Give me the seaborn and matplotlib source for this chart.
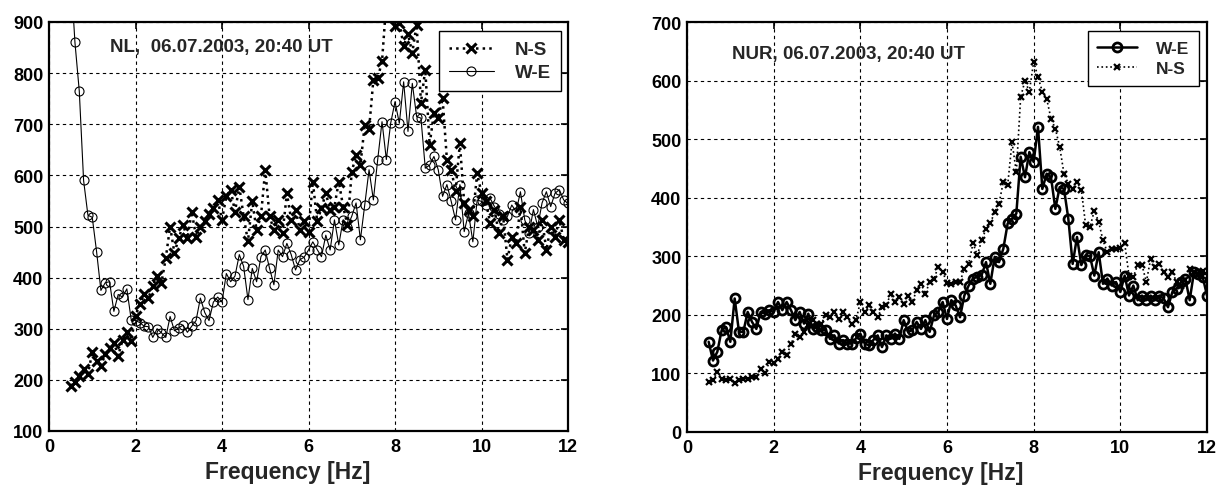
import numpy as np
import matplotlib
matplotlib.use("Agg")
import matplotlib.pyplot as plt
import seaborn as sns

# ---------------- data ----------------
f_start = 0.5
f_step = 0.1

nl_we = [1000, 860, 765, 590, 522, 518, 451, 375, 390, 392,
         334, 367, 362, 378, 318, 316, 312, 305, 304, 283,
         300, 292, 283, 324, 296, 302, 307, 293, 305, 316,
         360, 332, 316, 352, 362, 352, 408, 392, 403, 445,
         422, 357, 418, 392, 441, 454, 418, 386, 454, 441,
         467, 445, 415, 435, 440,
         454, 470, 455, 441, 483, 454, 513, 464, 513, 500,
         520, 546, 474, 542, 611, 552, 631, 705, 631, 702,
         744, 702, 783, 686, 780, 715, 712, 614, 620, 637,
         611, 559, 582, 549, 513, 582, 490, 526, 470, 552,
         549, 542, 555, 539, 525, 513, 520, 542, 529, 568,
         513, 487, 533, 500, 546, 568, 539, 565, 572, 552,
         545]

nl_ns = [188, 196, 208, 221, 211, 254, 237, 227, 250, 262,
         273, 247, 278, 293, 276, 325, 348, 367, 361, 383,
         403, 390, 438, 500, 448, 477, 503, 477, 529, 480,
         500, 510, 525, 536, 552, 513, 559, 572, 529, 578,
         520, 471, 549, 493, 520, 611, 520, 493, 513, 487,
         565, 513, 533, 493, 510,
         490, 588, 510, 536, 565, 533, 539, 588, 539, 503,
         607, 640, 620, 699, 690, 787, 790, 823, 940, 960,
         892, 899, 853, 876, 840, 895, 742, 807, 660, 722,
         712, 751, 631, 611, 569, 663, 546, 533, 520, 604,
         565, 549, 507, 533, 487, 520, 435, 480, 467, 539,
         448, 500, 493, 474, 513, 454, 500, 480, 513, 474,
         470]

nur_we = [154, 122, 137, 174, 179, 154, 228, 171, 171, 205,
          188, 176, 205, 202, 208, 205, 222, 208, 222, 208,
          191, 205, 185, 202, 176, 179, 174, 174, 159, 165,
          151, 157, 151, 151, 160, 168, 151, 148, 157, 165,
          145, 165, 159, 168, 159, 191, 171, 174, 188, 176,
          191, 171, 199, 205, 222,
          193, 225, 216, 196, 233, 250, 262, 265, 268, 290,
          253, 299, 290, 313, 356, 364, 373, 470, 435, 478,
          461, 521, 415, 441, 435, 381, 418, 415, 364, 287,
          333, 285, 302, 300, 267, 307, 253, 262, 250, 256,
          239, 267, 233, 250, 225, 233, 225, 233, 225, 233,
          228, 213, 239, 245, 256, 262, 225, 273, 270, 265,
          233]

nur_ns = [85, 88, 102, 91, 88, 91, 83, 88, 91, 91,
          94, 94, 108, 100, 120, 117, 125, 137, 131, 150,
          168, 162, 170, 182, 191, 185, 185, 199, 196, 205,
          193, 205, 196, 185, 191, 222, 205, 216, 205, 196,
          213, 216, 236, 222, 230, 219, 233, 222, 242, 253,
          236, 256, 262, 282, 273,
          255, 253, 256, 256, 279, 287, 322, 302, 327, 347,
          356, 376, 390, 427, 421, 495, 444, 572, 600, 581,
          632, 606, 581, 569, 535, 518, 487, 441, 424, 415,
          427, 413, 353, 350, 378, 359, 327, 307, 313, 313,
          315, 322, 267, 265, 285, 285, 256, 296, 282, 287,
          273, 265, 273, 256, 250, 259, 279, 273, 270, 275,
          260]

x_ticks = [0, 2, 4, 6, 8, 10, 12]
nl_yticks = [100, 200, 300, 400, 500, 600, 700, 800, 900]
nur_yticks = [0, 100, 200, 300, 400, 500, 600, 700]
x_label = "Frequency [Hz]"
nl_title = "NL,  06.07.2003, 20:40 UT"
nur_title = "NUR, 06.07.2003, 20:40 UT"


def freqs(vals):
    return f_start + f_step * np.arange(len(vals))


# ---------------- style ----------------
sns.set_style("white")
plt.rcParams["font.family"] = ["Liberation Sans", "DejaVu Sans"]
plt.rcParams["font.weight"] = "bold"

fig = plt.figure(figsize=(12.2, 4.89), dpi=100)
fig.patch.set_facecolor("white")
ax1 = fig.add_axes([49 / 1220, 57 / 489, 519 / 1220, 409 / 489])
ax2 = fig.add_axes([687 / 1220, 56 / 489, 520 / 1220, 410 / 489])

# ---------------- left panel (NL) ----------------
sns.lineplot(x=freqs(nl_ns), y=nl_ns, ax=ax1, color="k", linestyle=":",
             linewidth=1.8, marker="x", markersize=6.5,
             markeredgewidth=2.2, markeredgecolor="k", label="N-S")
sns.lineplot(x=freqs(nl_we), y=nl_we, ax=ax1, color="k", linestyle="-",
             linewidth=0.8, marker="o", markersize=6.5,
             markeredgewidth=0.8, markeredgecolor="k",
             markerfacecolor="none", label="W-E")

# ---------------- right panel (NUR) ----------------
sns.lineplot(x=freqs(nur_we), y=nur_we, ax=ax2, color="k", linestyle="-",
             linewidth=1.8, marker="o", markersize=6.5,
             markeredgewidth=2.0, markeredgecolor="k",
             markerfacecolor="none", label="W-E")
sns.lineplot(x=freqs(nur_ns), y=nur_ns, ax=ax2, color="k", linestyle=":",
             linewidth=1.2, marker="x", markersize=4.5,
             markeredgewidth=1.6, markeredgecolor="k", label="N-S")

panels = [
    (ax1, nl_yticks, nl_title, (0.1175, 0.941), 0.46, (0.9865, 0.978), 13.5, 2.4),
    (ax2, nur_yticks, nur_title, (0.0865, 0.922), 0.487, (0.9846, 0.978), 12.5, 2.3),
]

for ax, yt, title, tpos, lab_x, leg_anchor, leg_fs, hl in panels:
    ax.set_xlim(0, 12)
    ax.set_ylim(yt[0], yt[-1])
    ax.set_xticks(x_ticks)
    ax.set_yticks(yt)
    ax.set_xticklabels([str(v) for v in x_ticks], fontsize=13, fontweight="bold")
    ax.set_yticklabels([str(v) for v in yt], fontsize=13, fontweight="bold")
    ax.grid(True, color="k", linestyle=(0, (3, 3)), linewidth=0.8)
    ax.set_axisbelow(True)
    ax.tick_params(direction="in", top=True, right=True, length=5,
                   width=1.2, pad=4, colors="k")
    ax.tick_params(axis="x", pad=5)
    for sp in ax.spines.values():
        sp.set_visible(True)
        sp.set_color("k")
        sp.set_linewidth(1.6)
    ax.set_xlabel("")
    ax.set_ylabel("")
    ax.text(lab_x, -0.1, x_label, transform=ax.transAxes, ha="center",
            va="center", fontsize=16.5, fontweight="bold")
    ax.text(tpos[0], tpos[1], title, transform=ax.transAxes, ha="left",
            va="center", fontsize=13.5, fontweight="bold")
    leg = ax.legend(loc="upper right", bbox_to_anchor=leg_anchor,
                    borderaxespad=0, frameon=True, fancybox=False,
                    framealpha=1, edgecolor="k", handlelength=hl,
                    handletextpad=1.1, borderpad=0.55, labelspacing=0.3,
                    prop={"size": leg_fs, "weight": "bold"})
    leg.get_frame().set_linewidth(1.0)

fig.savefig("out.png", dpi=100, facecolor="white")
